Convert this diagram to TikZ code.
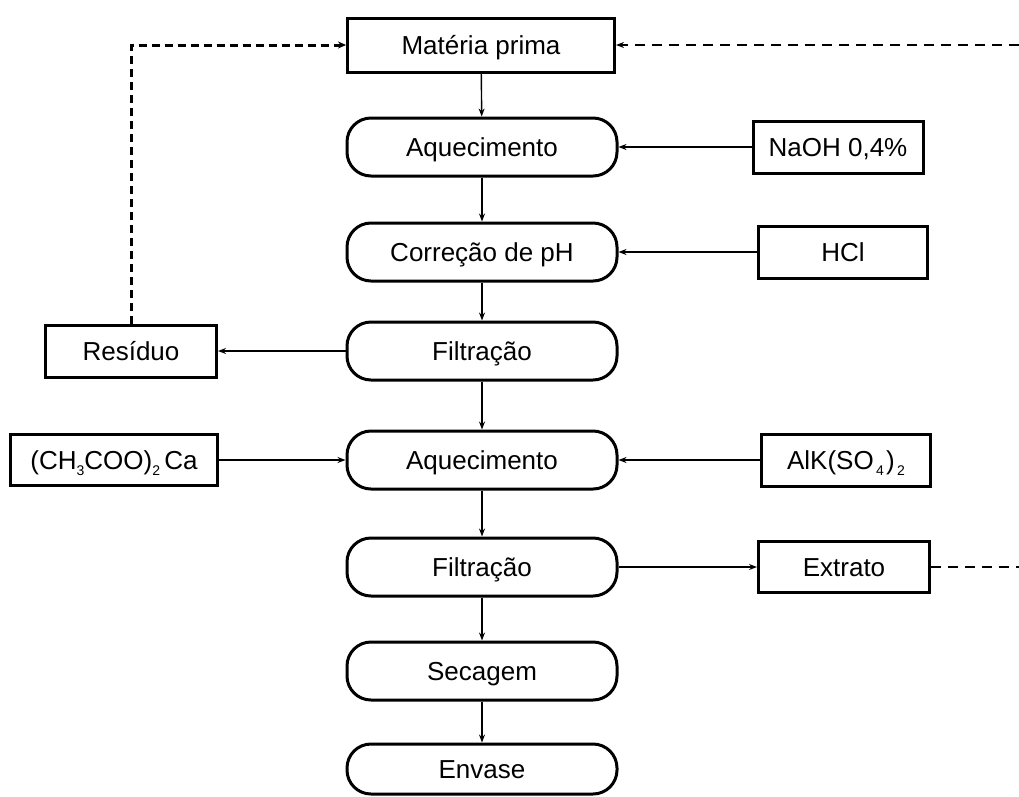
\documentclass[tikz,border=0pt]{standalone}
\usepackage{fontspec}
\setmainfont{Liberation Sans}
\usetikzlibrary{arrows.meta}
\newcommand{\lowsub}[1]{\raisebox{-6pt}{\fontsize{14}{14}\selectfont #1}}
\begin{document}
\begin{tikzpicture}[x=1pt,y=-1pt,
  font=\fontsize{26}{30}\selectfont,
  every node/.style={text height=24pt, text depth=5.4pt},
  proc/.style={draw, line width=3pt, rounded corners=24pt, minimum width=270pt, minimum height=58pt, inner sep=0pt},
  sidebox/.style={draw, line width=3pt, minimum height=52pt, inner sep=0pt},
  flow/.style={line width=1.4pt, -{Stealth[length=8pt,width=6pt]}},
  dashthick/.style={line width=3pt, dash pattern=on 8pt off 5pt, -{Stealth[length=8pt,width=7pt]}},
  dashthin/.style={line width=1.5pt, dash pattern=on 10pt off 7pt}
]
\useasboundingbox (0,0) rectangle (1019,796);
% main column
\node[sidebox, minimum width=267pt, minimum height=54pt] (mp) at (481,45) {Matéria prima};
\node[proc] (aq1) at (482,147) {Aquecimento};
\node[proc] (cph) at (482,252) {Correção de pH};
\node[proc] (fil1) at (482,351) {Filtração};
\node[proc] (aq2) at (482,460) {Aquecimento};
\node[proc] (fil2) at (482,567) {Filtração};
\node[proc] (sec) at (482,671) {Secagem};
\node[proc, minimum height=50pt] (env) at (482,769) {Envase};
% side boxes
\node[sidebox, minimum width=170pt] (naoh) at (838,147) {NaOH 0,4\%};
\node[sidebox, minimum width=169pt] (hcl) at (843,252) {HCl};
\node[sidebox, minimum width=171pt] (res) at (131,351) {Resíduo};
\node[sidebox, minimum width=207pt, minimum height=51pt] (ca) at (114,460) {(CH\lowsub{3}COO)\lowsub{2}\,Ca};
\node[sidebox, minimum width=169pt] (alk) at (846,460) {AlK(SO\lowsub{\,4\,})\lowsub{\,2}};
\node[sidebox, minimum width=171pt, minimum height=51pt] (ext) at (844,567) {Extrato};
\coordinate (topright) at (1019,45);
\coordinate (extend) at (1019,567);
% main flow
\draw[flow] (mp) -- (aq1);
\draw[flow] (aq1) -- (cph);
\draw[flow] (cph) -- (fil1);
\draw[flow] (fil1) -- (aq2);
\draw[flow] (aq2) -- (fil2);
\draw[flow] (fil2) -- (sec);
\draw[flow] (sec) -- (env);
% inputs / outputs
\draw[flow] (naoh) -- (aq1);
\draw[flow] (hcl) -- (cph);
\draw[flow] (fil1) -- (res);
\draw[flow] (ca) -- (aq2);
\draw[flow] (alk) -- (aq2);
\draw[flow] (fil2) -- (ext);
% dashed recycles
\draw[dashthick] (res.north) |- (mp.west);
\draw[dashthin, -{Stealth[length=8pt,width=6pt]}] (topright) -- (mp.east);
\draw[dashthin] (ext.east) -- (extend);
\end{tikzpicture}
\end{document}
